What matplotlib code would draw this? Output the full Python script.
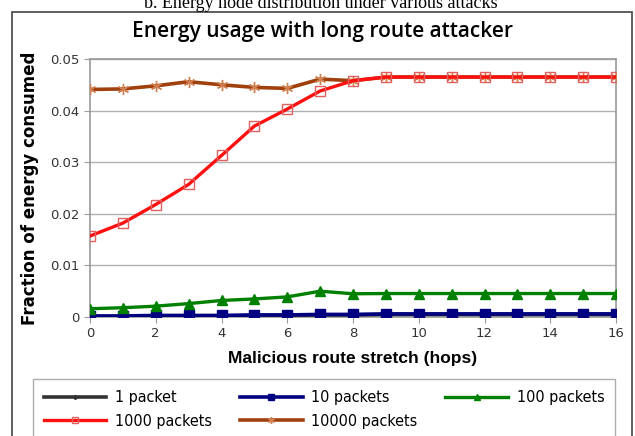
import matplotlib
matplotlib.use("Agg")
import matplotlib.pyplot as plt
from matplotlib.patches import Rectangle
from matplotlib.font_manager import FontProperties

hops = list(range(17))
p1 = [0.0001, 0.0001, 0.0002, 0.0002, 0.0002, 0.0003, 0.0003, 0.0004, 0.0004, 0.0005, 0.0005, 0.0005, 0.0005, 0.0005, 0.0005, 0.0005, 0.0005]
p10 = [0.0002, 0.0002, 0.0003, 0.0003, 0.0003, 0.0004, 0.0004, 0.0005, 0.0005, 0.0006, 0.0006, 0.0006, 0.0006, 0.0006, 0.0006, 0.0006, 0.0006]
p100 = [0.0016, 0.0018, 0.0021, 0.0026, 0.0032, 0.0035, 0.0039, 0.0050, 0.0045, 0.00455, 0.00455, 0.00455, 0.00455, 0.00455, 0.00455, 0.00455, 0.00455]
p1000 = [0.0157, 0.0182, 0.0218, 0.0257, 0.0313, 0.0370, 0.0403, 0.0438, 0.0458, 0.0465, 0.0465, 0.0465, 0.0465, 0.0465, 0.0465, 0.0465, 0.0465]
p10000 = [0.0441, 0.0442, 0.0448, 0.0456, 0.0450, 0.0445, 0.0443, 0.0461, 0.0458, 0.0465, 0.0465, 0.0465, 0.0465, 0.0465, 0.0465, 0.0465, 0.0465]
labels = ["1 packet", "10 packets", "100 packets", "1000 packets", "10000 packets"]
yticks = [0, 0.01, 0.02, 0.03, 0.04, 0.05]
ytick_labels = ["0", "0.01", "0.02", "0.03", "0.04", "0.05"]
xticks = [0, 2, 4, 6, 8, 10, 12, 14, 16]

fig = plt.figure(figsize=(6.35, 4.36), dpi=100)
fig.patch.set_facecolor("white")
fig.add_artist(Rectangle((12/635, -0.01), 620/635, 1 - 12/436 + 0.01, transform=fig.transFigure,
                         fill=False, edgecolor="#444444", lw=1.2))
fig.text(0.505, 1 - 8/436, "b. Energy node distribution under various attacks",
         family="Liberation Serif", fontsize=13, ha="center", va="baseline", color="black")

ax = fig.add_axes([90/635, 1 - 317/436, (616 - 90)/635, (317 - 59)/436])
h1, = ax.plot(hops, p1, color="#333333", lw=2.6, marker="D", ms=3.5, label=labels[0], zorder=3)
h2, = ax.plot(hops, p10, color="#000080", lw=2.6, marker="s", ms=6.5, label=labels[1], zorder=4)
h3, = ax.plot(hops, p100, color="#008000", lw=2.4, marker="^", ms=6.5, label=labels[2], zorder=4)
h4, = ax.plot(hops, p1000, color="#ff1010", lw=2.4, marker="s", ms=7, mfc="none", mec="#e06060", mew=1.0, label=labels[3], zorder=5)
h5, = ax.plot(hops, p10000, color="#a0410d", lw=2.6, marker=(6, 2, 0), ms=8, mec="#d08050", mew=1.0, label=labels[4], zorder=4)

ax.set_xlim(0, 16)
ax.set_ylim(0, 0.05)
ax.set_xticks(xticks)
ax.set_yticks(yticks)
ax.set_yticklabels(ytick_labels)
ax.yaxis.grid(True, color="#b0b0b0", lw=1)
ax.set_axisbelow(True)
for s in ax.spines.values():
    s.set_color("#999999")
    s.set_linewidth(1.2)
ax.tick_params(axis="both", labelsize=9.5, colors="#999999", labelcolor="#333333", length=4)
ax.tick_params(axis="x", pad=3)
ax.set_xlabel("Malicious route stretch (hops)", family="Liberation Sans", fontsize=12.5,
              fontweight="bold", labelpad=8)
ax.set_ylabel("Fraction of energy consumed", fontsize=12, fontweight="bold", labelpad=8)
fig.text(323/635, 1 - 32/436, "Energy usage with long route attacker", family="Open Sans",
         fontweight="semibold", fontsize=15, ha="center", va="center")

legfont = FontProperties(family="DejaVu Sans", stretch="condensed", size=11.5)
order = [h1, h4, h2, h5, h3]
leg = fig.legend(order, [h.get_label() for h in order], loc="upper left",
                 bbox_to_anchor=(33/635, 1 - 379/436), ncol=3, prop=legfont,
                 frameon=True, fancybox=False, edgecolor="#999999", handlelength=3.9,
                 columnspacing=1.75, borderpad=0.7, labelspacing=0.55, handletextpad=0.55,
                 borderaxespad=0, markerscale=0.6)
leg.get_frame().set_linewidth(1.0)

fig.savefig("out.png", dpi=100, facecolor="white")
